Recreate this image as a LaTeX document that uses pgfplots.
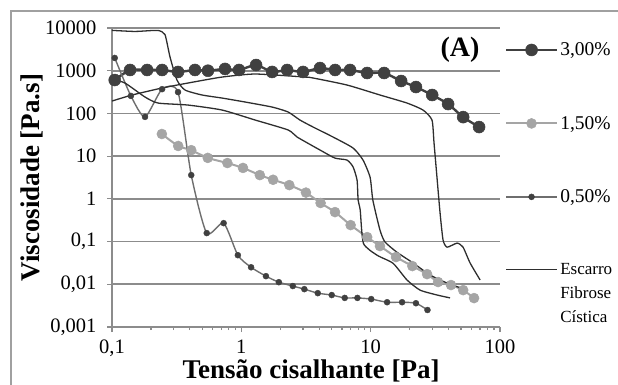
\documentclass[border=0pt]{standalone}
\usepackage{fontspec}
\setmainfont{Liberation Serif}
\usepackage{pgfplots}
\pgfplotsset{compat=1.18}
\definecolor{dk}{HTML}{404040}
\definecolor{lt}{HTML}{A5A5A5}
\definecolor{md}{HTML}{6E6E6E}
\definecolor{gridc}{HTML}{8C8C8C}
\definecolor{esc}{HTML}{2E2E2E}
\definecolor{framec}{HTML}{A0A0A0}
\begin{document}
\begin{tikzpicture}
\begin{axis}[
 scale only axis, width=388bp, height=299bp,
 xmode=log, ymode=log,
 xmin=0.1, xmax=100, ymin=0.001, ymax=10000,
 axis x line*=bottom, axis y line*=left,
 axis line style={gridc, line width=1.6bp, -},
 xtick={0.1,1,10,100}, xticklabels={{0,1},1,10,100},
 ytick={0.001,0.01,0.1,1,10,100,1000,10000},
 yticklabels={{0,001},{0,01},{0,1},1,10,100,1000,10000},
 minor xtick={0.2,0.3,0.4,0.5,0.6,0.7,0.8,0.9,2,3,4,5,6,7,8,9,20,30,40,50,60,70,80,90},
 yminorticks=false,
 tick align=outside, major tick length=5bp, minor tick length=3bp,
 tick style={gridc, line width=1.2bp},
 ymajorgrids, major grid style={gridc, line width=1.6bp},
 tick label style={font=\fontsize{20.5bp}{22bp}\selectfont, text=black},
 yticklabel style={xshift=-7bp},
 xticklabel style={inner sep=0pt, yshift=-8bp},
 xlabel={Tensão cisalhante [Pa]},
 ylabel={Viscosidade [Pa.s]},
 label style={font=\bfseries\fontsize{27bp}{30bp}\selectfont},
 xlabel style={anchor=center, inner sep=0pt, at={(axis description cs:0.513,-0.146)}},
 ylabel style={anchor=center, at={(axis description cs:-0.206,0.5)}},
 legend style={at={(axis description cs:1.012,0.958)}, anchor=north west, draw=none, fill=none,
   font=\fontsize{19.5bp}{23bp}\selectfont, row sep=55bp, inner sep=0pt,
   /tikz/every even column/.append style={column sep=6bp}},
 legend cell align=left,
 legend image code/.code={\draw[mark repeat=2,mark phase=2,#1] plot coordinates {(0bp,0bp) (25.5bp,0bp) (51bp,0bp)};},
 clip=false,
]
\coordinate (O) at (rel axis cs:0,0);
% 3,00%
\addplot[dk, line width=2.4bp, smooth, tension=0.4, mark=*, mark size=6bp, mark options={fill=dk, draw=dk, line width=0.5bp}]
 coordinates {(0.105,605) (0.138,1040) (0.187,1040) (0.244,1040) (0.324,935) (0.438,1040) (0.552,1000) (0.748,1100) (0.96,1040) (1.30,1360) (1.73,935) (2.26,1040) (3.0,935) (4.06,1155) (5.31,1040) (6.93,1040) (9.38,884) (12.7,884) (17.2,574) (22.4,415) (29.9,270) (39.7,166) (51.9,82) (68.9,48)};
\addlegendentry{3,00\%}
% 1,50%
\addplot[lt, line width=2bp, smooth, tension=0.4, mark=*, mark size=5bp, mark options={fill=lt, draw=lt, line width=0.5bp}]
 coordinates {(0.243,33) (0.325,17.3) (0.41,13.8) (0.55,9.1) (0.78,6.9) (1.03,5.3) (1.39,3.6) (1.76,2.8) (2.35,2.1) (3.16,1.4) (4.1,0.8) (5.3,0.49) (7.0,0.243) (9.4,0.127) (11.8,0.0785) (15.7,0.0434) (21.0,0.0267) (27.3,0.0173) (33.2,0.0113) (41.8,0.0096) (51.9,0.0073) (63,0.00475)};
\addlegendentry{1,50\%}
% 0,50%
\addplot[md, line width=1.4bp, smooth, tension=0.4, mark=*, mark size=3bp, mark options={fill=dk, draw=dk, line width=0.4bp}]
 coordinates {(0.105,1990) (0.14,257) (0.18,83) (0.244,370) (0.324,316) (0.41,3.6) (0.54,0.158) (0.73,0.27) (0.94,0.048) (1.19,0.025) (1.55,0.0155) (1.95,0.0112) (2.5,0.0091) (3.07,0.0077) (3.9,0.0062) (5.0,0.0056) (6.3,0.0048) (7.9,0.0048) (10.1,0.0045) (13.4,0.0038) (17.5,0.0038) (22.4,0.0036) (27.5,0.0025)};
\addlegendentry{0,50\%}
% Escarro Fibrose Cistica
\addplot[esc, line width=1.3bp, smooth, tension=0.35]
 coordinates {(0.1,8800) (0.15,8300) (0.2,8700) (0.23,8700) (0.257,7000) (0.281,2090) (0.318,605) (0.367,353) (0.497,270) (0.71,229) (1.07,185) (1.73,141) (2.3,108) (2.84,70) (3.59,48) (5.12,28) (7.31,15.5) (8.73,8.1) (9.9,3.2) (10.4,0.93) (11.8,0.186) (12.9,0.098) (16,0.056) (21.3,0.0315) (28.8,0.0165) (39,0.0107) (55.7,0.0073)};
\addlegendentry{\parbox[t]{60bp}{\fontsize{17bp}{24bp}\selectfont Escarro\\Fibrose\\Cística}}
\addplot[esc, line width=1.3bp, smooth, tension=0.35, forget plot]
 coordinates {(0.1,640) (0.126,515) (0.18,242) (0.227,175) (0.387,157) (0.71,120) (1.28,70) (2.3,41) (2.7,28) (4.06,13.9) (5.3,9) (6.57,8.1) (7.31,5.6) (7.85,2.75) (8.0,0.93) (8.3,0.55) (8.79,0.091) (11.2,0.048) (14.9,0.031) (19.1,0.0126) (24.1,0.0073) (32.7,0.0056) (41.1,0.0048)};
\addplot[esc, line width=1.3bp, smooth, tension=0.35, forget plot]
 coordinates {(0.1,195) (0.143,270) (0.244,394) (0.387,515) (0.71,711) (1.28,837) (3.11,711) (3.59,675) (6.57,462) (11.8,270) (19.1,175) (25.4,120) (29.8,70) (30.9,20.3) (32.7,2.75) (34.4,0.47) (36.3,0.108) (39,0.074) (46.6,0.092) (51.8,0.074) (58.7,0.0316) (70.2,0.0126)};
\node[anchor=east, font=\bfseries\fontsize{28bp}{30bp}\selectfont] at (axis description cs:0.956,0.926) {(A)};
\end{axis}
\draw[framec, line width=1.5bp] (O) ++(-101bp,-58bp) -- ++(0,374bp) -- ++(607bp,0);
\pgfresetboundingbox
\path[use as bounding box] (O) ++(-112bp,-58bp) rectangle ++(618bp,385bp);
\end{tikzpicture}
\end{document}
